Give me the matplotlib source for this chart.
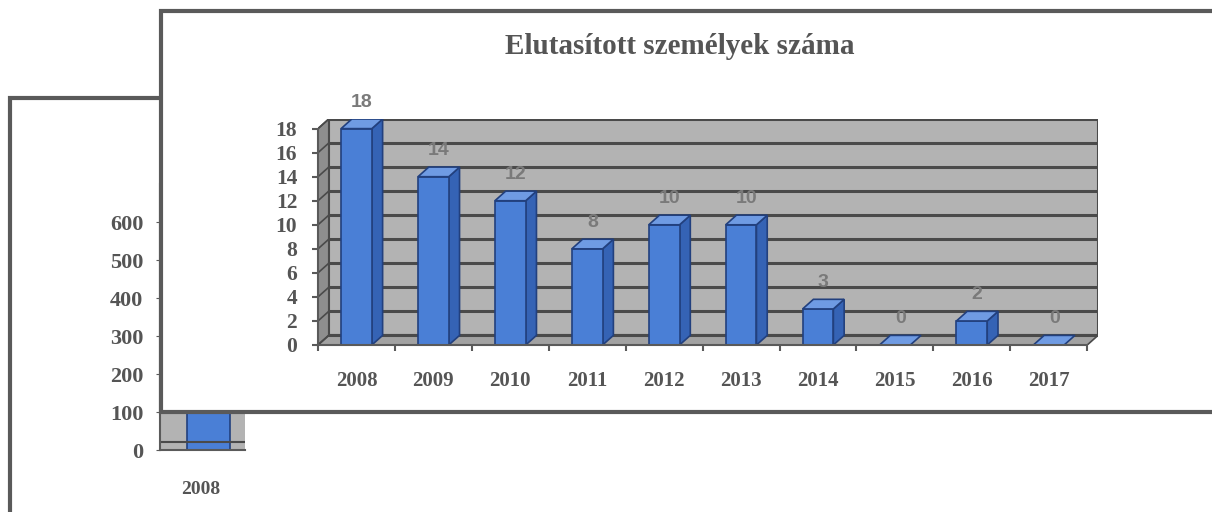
import matplotlib
matplotlib.use('Agg')
from matplotlib import pyplot as plt
from matplotlib.patches import Polygon, Rectangle

# main chart data
years = ['2008', '2009', '2010', '2011', '2012', '2013', '2014', '2015', '2016', '2017']
rejected = [18, 14, 12, 8, 10, 10, 3, 0, 2, 0]
main_ticks = [0, 2, 4, 6, 8, 10, 12, 14, 16, 18]
title = 'Elutasított személyek száma'

# chart hidden behind, only its first column shows
back_years = ['2008']
back_values = [560]
back_ticks = [0, 100, 200, 300, 400, 500, 600]

_serif = 'Liberation Serif'
_text_grey = '#555555'
_frame_grey = '#5a5a5a'
_wall = '#b3b3b3'
_side_wall = '#8e8e8e'
_floor = '#a2a2a2'
_grid = '#4a4a4a'
_bar_front = '#4a7fd6'
_bar_side = '#3563b5'
_bar_top = '#6f9be3'
_bar_edge = '#22407e'

# depth offsets of the fake 3D walls (data units)
dx = 0.14
dy = 0.8

fig = plt.figure(figsize=(12.12, 5.12), dpi=100)
fig.patch.set_facecolor('white')
W, H = 1212.0, 512.0


def px_rect(x0, y0, x1, y1):
    return (x0 / W, 1 - y1 / H, (x1 - x0) / W, (y1 - y0) / H)


# back frame
bx, by, bw, bh = px_rect(10, 98, 1230, 530)
fig.patches.append(Rectangle((bx, by), bw, bh, transform=fig.transFigure,
                             facecolor='white', edgecolor=_frame_grey, lw=3, zorder=0.1))

# back chart axes
back_ax = fig.add_axes(px_rect(160, 184, 245, 450), zorder=0.2)
back_ax.set_facecolor(_wall)
back_ax.set_xlim(-0.5, 0.55)
back_ax.set_ylim(0, 700)
back_ax.bar([0.1], back_values, width=0.53, color=_bar_front, edgecolor=_bar_edge, lw=1.2)
back_ax.axhline(20, color=_grid, lw=1.5)
back_ax.set_yticks(back_ticks)
back_ax.set_yticklabels([str(t) for t in back_ticks], fontfamily=_serif,
                        fontweight='bold', fontsize=16, color=_text_grey)
back_ax.set_xticks([0])
back_ax.set_xticklabels(back_years, fontfamily=_serif, fontweight='bold',
                        fontsize=14, color=_text_grey)
back_ax.tick_params(axis='y', length=3, pad=9, color=_frame_grey)
back_ax.tick_params(axis='x', length=0, pad=22)
for side in ['top', 'right']:
    back_ax.spines[side].set_visible(False)
for side in ['left', 'bottom']:
    back_ax.spines[side].set_color(_frame_grey)
    back_ax.spines[side].set_linewidth(1.5)

# front frame covering most of the back chart
fx, fy, fw, fh = px_rect(161, 11, 1230, 412)
fig.patches.append(Rectangle((fx, fy), fw, fh, transform=fig.transFigure,
                             facecolor='white', edgecolor=_frame_grey, lw=3, zorder=0.3))

fig.text(680 / W, 1 - 47 / H, title, ha='center', va='center', fontfamily=_serif,
         fontweight='bold', fontsize=21, color=_text_grey, zorder=0.5)

# main chart axes
ax = fig.add_axes(px_rect(318, 119, 1098, 345), zorder=0.4)
ax.set_facecolor('none')
n = len(years)
x0, x1 = -0.5, n - 0.5
ytop = main_ticks[-1]
ax.set_xlim(x0, x1 + dx)
ax.set_ylim(0, ytop + dy)

# walls and floor
ax.add_patch(Polygon([(x0 + dx, dy), (x1 + dx, dy), (x1 + dx, ytop + dy), (x0 + dx, ytop + dy)],
                     closed=True, facecolor=_wall, edgecolor=_grid, lw=1.5, zorder=1))
ax.add_patch(Polygon([(x0, 0), (x0 + dx, dy), (x0 + dx, ytop + dy), (x0, ytop)],
                     closed=True, facecolor=_side_wall, edgecolor=_grid, lw=1.2, zorder=1))
ax.add_patch(Polygon([(x0, 0), (x1, 0), (x1 + dx, dy), (x0 + dx, dy)],
                     closed=True, facecolor=_floor, edgecolor=_grid, lw=1.2, zorder=1))
for t in main_ticks:
    ax.plot([x0 + dx, x1 + dx], [t + dy, t + dy], color=_grid, lw=2.2, zorder=2)
    ax.plot([x0, x0 + dx], [t, t + dy], color=_grid, lw=1.2, zorder=2)

# bars with side and top faces
bw_ = 0.40
xs = list(range(n))
ax.bar(xs, rejected, width=bw_, color=_bar_front, edgecolor=_bar_edge, lw=1.2, zorder=4)
for i, v in zip(xs, rejected):
    r = i + bw_ / 2
    l = i - bw_ / 2
    if v > 0:
        ax.add_patch(Polygon([(r, 0), (r + dx, dy), (r + dx, v + dy), (r, v)], closed=True,
                             facecolor=_bar_side, edgecolor=_bar_edge, lw=1.2, zorder=3))
    ax.add_patch(Polygon([(l, v), (r, v), (r + dx, v + dy), (l + dx, v + dy)], closed=True,
                         facecolor=_bar_top, edgecolor=_bar_edge, lw=1.2, zorder=5))
    ax.text(i + dx / 2, v + dy + 1.4, str(v), ha='center', va='center',
            fontfamily='Liberation Sans', fontweight='bold', fontsize=14,
            color='#7a7a7a', zorder=6, clip_on=False)

ax.set_xticks(xs)
ax.set_xticklabels(years, fontfamily=_serif, fontweight='bold', fontsize=15, color=_text_grey)
ax.set_xticks([x0 + k for k in range(n + 1)], minor=True)
ax.set_yticks(main_ticks)
ax.set_yticklabels([str(t) for t in main_ticks], fontfamily=_serif, fontweight='bold',
                   fontsize=15.5, color=_text_grey)
ax.tick_params(axis='x', which='major', length=0, pad=19)
ax.tick_params(axis='x', which='minor', length=4, width=1.5, color=_frame_grey)
ax.tick_params(axis='y', length=4, width=1.5, pad=11, color=_frame_grey)
for side in ['top', 'right']:
    ax.spines[side].set_visible(False)
ax.spines['left'].set_bounds(0, ytop)
ax.spines['bottom'].set_bounds(x0, x1)
for side in ['left', 'bottom']:
    ax.spines[side].set_color(_frame_grey)
    ax.spines[side].set_linewidth(1.5)
    ax.spines[side].set_zorder(7)

fig.savefig('out.png', dpi=100)
plt.close()
